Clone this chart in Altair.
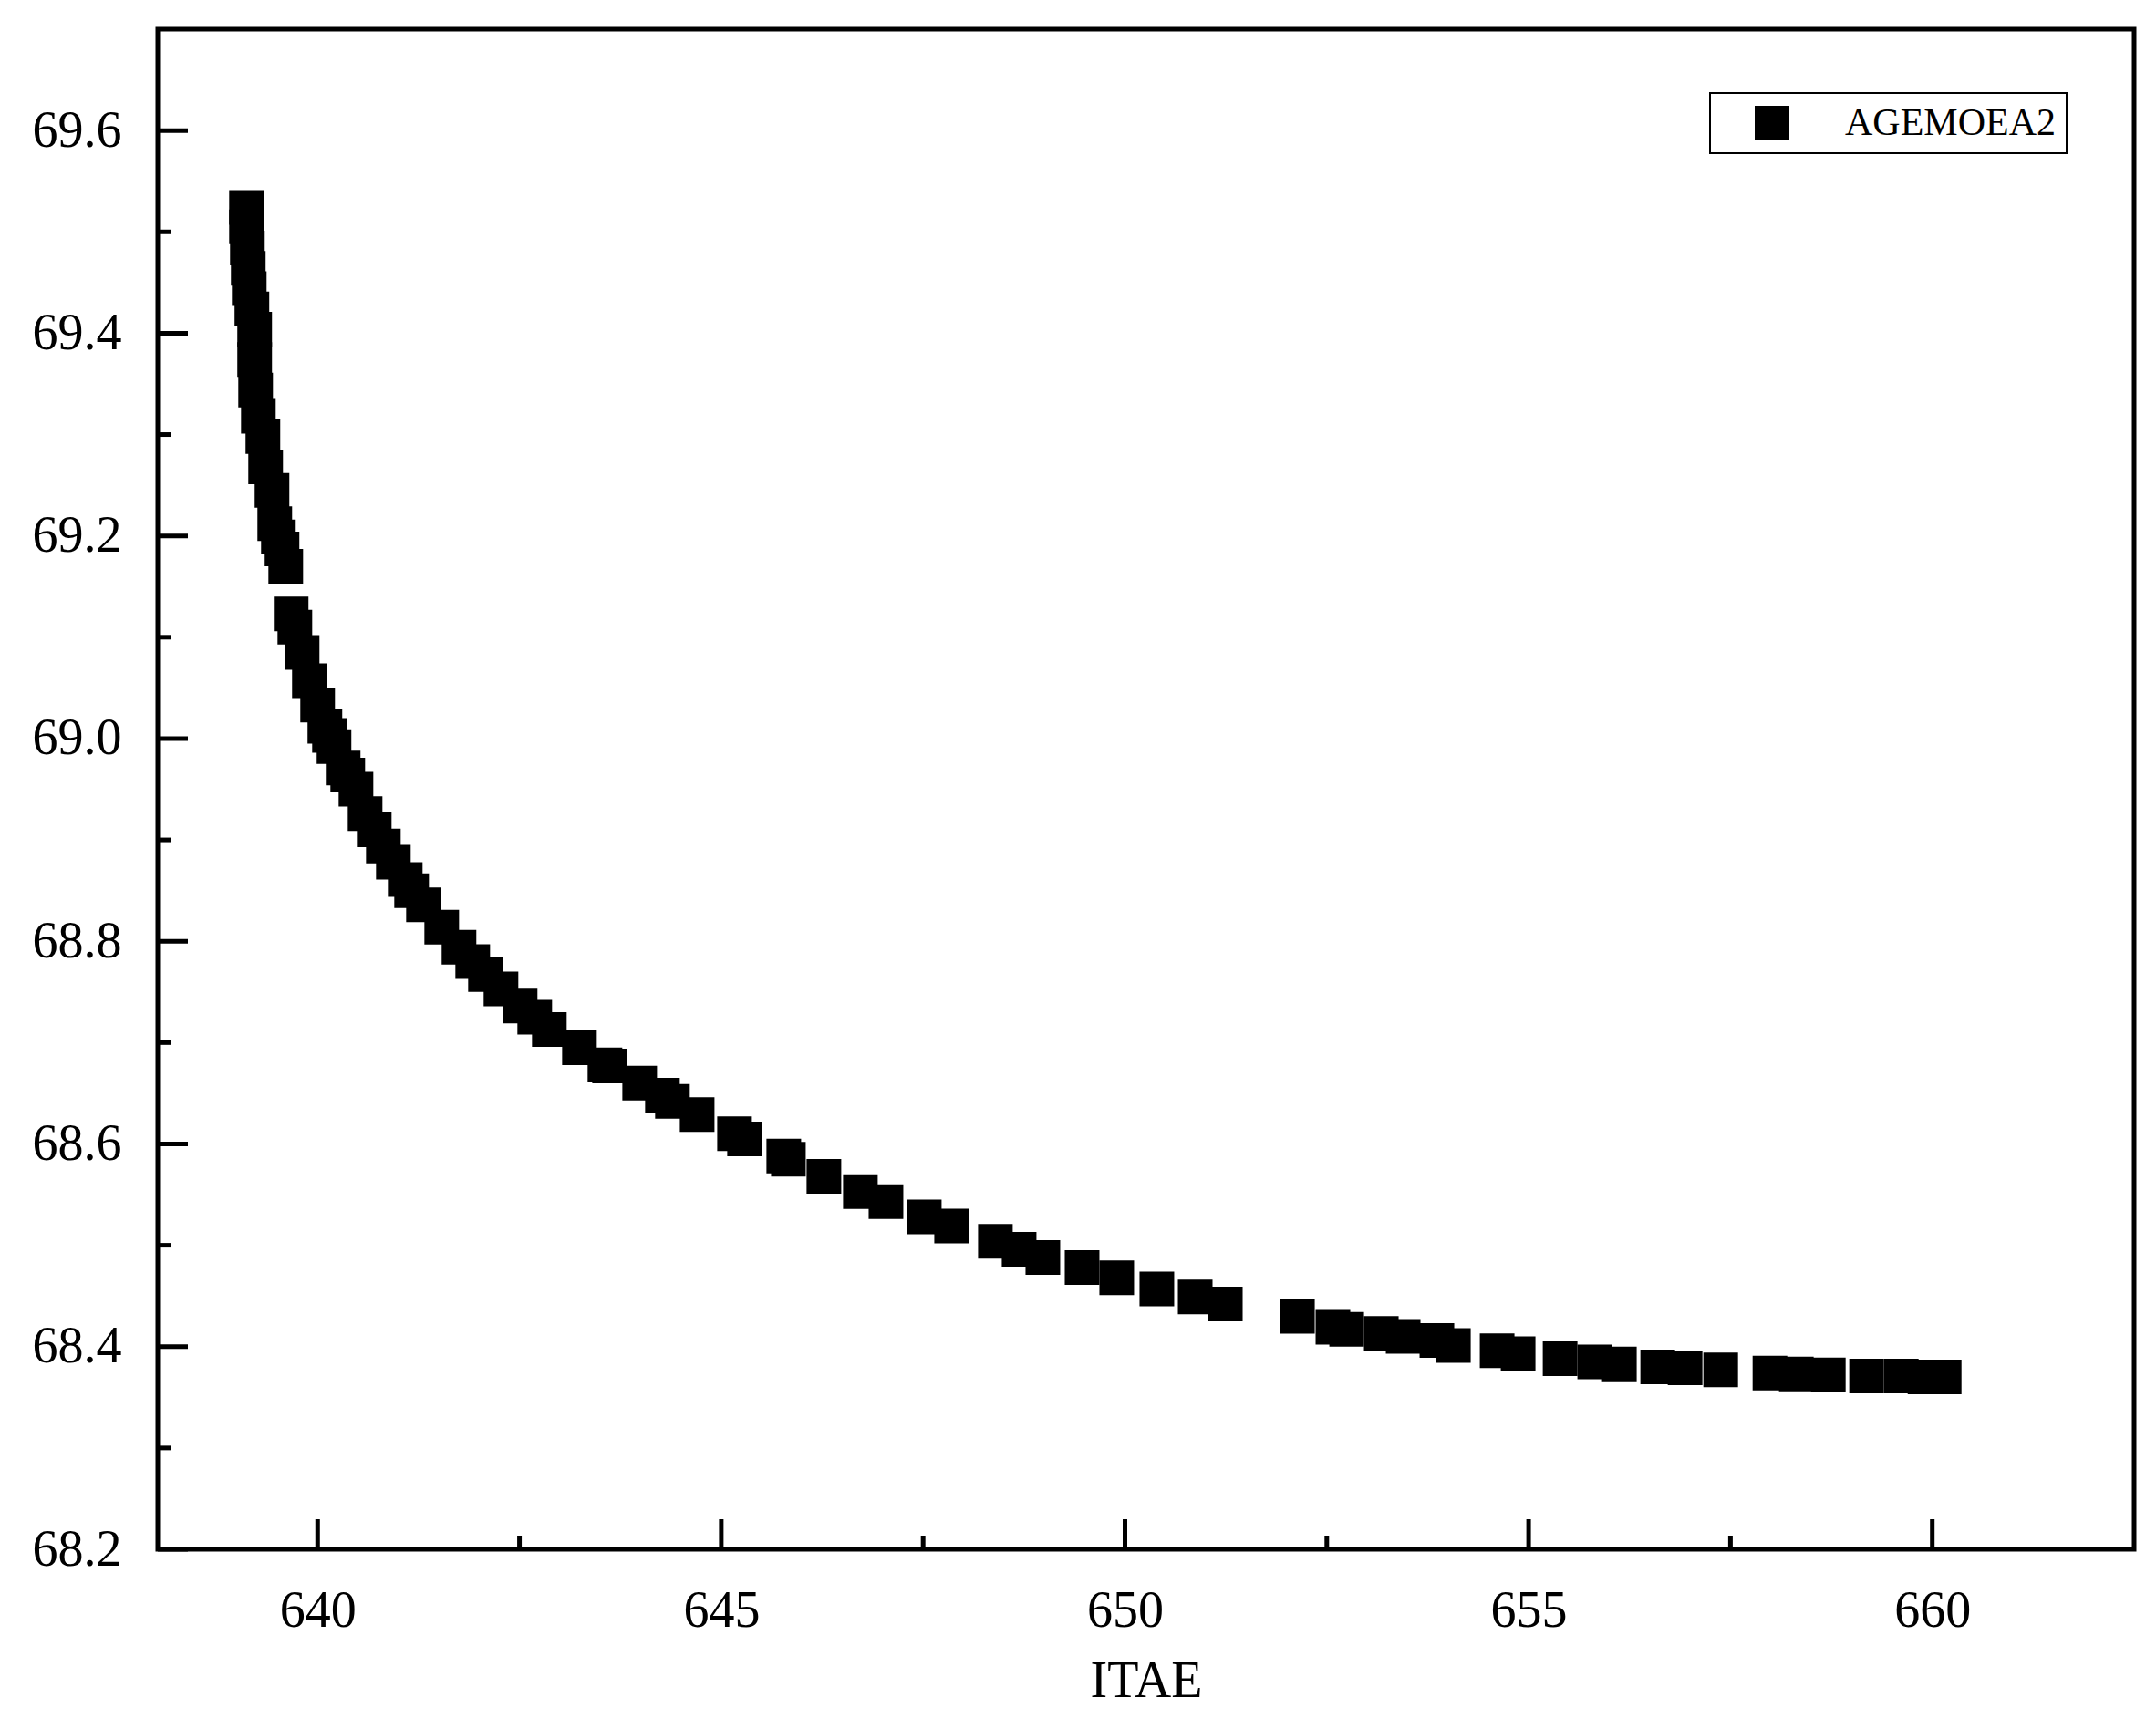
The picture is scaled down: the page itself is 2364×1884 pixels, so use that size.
import altair as alt
import pandas as pd

# ---- data ----
series_name = "AGEMOEA2"

itae = [
    639.119, 639.119, 639.130, 639.141, 639.153, 639.186, 639.220, 639.220, 639.232, 639.266,
    639.322, 639.356, 639.435, 639.469, 639.514, 639.559, 639.605,
    639.672, 639.718, 639.808, 639.898, 640.000, 640.090, 640.147, 640.203, 640.316, 640.373,
    640.475, 640.588, 640.701, 640.814, 640.938, 641.085, 641.164, 641.311, 641.537, 641.751,
    641.921, 642.079, 642.271, 642.508, 642.689, 642.870, 643.243, 643.559, 643.616, 643.989,
    644.271, 644.395, 644.701, 645.164, 645.288, 645.774, 645.831, 646.271, 646.723, 647.040,
    647.514, 647.853, 648.395, 648.689, 648.983, 649.469, 649.898, 650.395, 650.870, 651.243,
    652.136, 652.576, 652.746, 653.175, 653.446, 653.864, 654.068, 654.610, 654.870, 655.390,
    655.819, 656.124, 656.599, 656.938, 657.379,
    657.989, 658.316, 658.712, 659.186, 659.616, 659.910, 660.147,
]
objective2 = [
    69.524, 69.505, 69.484, 69.464, 69.444, 69.424, 69.404, 69.374, 69.344, 69.318,
    69.298, 69.268, 69.245, 69.212, 69.199, 69.187, 69.170,
    69.123, 69.110, 69.085, 69.057, 69.033, 69.012, 69.003, 68.992, 68.971, 68.964,
    68.950, 68.926, 68.910, 68.894, 68.878, 68.861, 68.850, 68.836, 68.814, 68.794,
    68.780, 68.767, 68.753, 68.736, 68.725, 68.713, 68.695, 68.678, 68.677, 68.660,
    68.648, 68.642, 68.629, 68.610, 68.605, 68.588, 68.585, 68.568, 68.553, 68.543,
    68.528, 68.519, 68.504, 68.496, 68.488, 68.478, 68.468, 68.457, 68.449, 68.442,
    68.430, 68.419, 68.417, 68.413, 68.410, 68.406, 68.401, 68.396, 68.393, 68.388,
    68.385, 68.383, 68.380, 68.379, 68.377,
    68.374, 68.373, 68.372, 68.371, 68.371, 68.370, 68.370,
]

x_major = [640, 645, 650, 655, 660]
x_minor = [642.5, 647.5, 652.5, 657.5]
y_major = [68.2, 68.4, 68.6, 68.8, 69.0, 69.2, 69.4, 69.6]
y_minor = [68.3, 68.5, 68.7, 68.9, 69.1, 69.3, 69.5]

# ---- layout / style ----
W, H = 2167, 1667
FONT = "Liberation Serif"
MAJOR_LEN, MINOR_LEN = 33, 15

xs = alt.Scale(domain=[638.02, 662.5], nice=False, zero=False)
ys = alt.Scale(domain=[68.2, 69.7], nice=False, zero=False)

pts = pd.DataFrame({"ITAE": itae, "obj": objective2, "series": [series_name] * len(itae)})

x_axis = alt.Axis(values=x_major, format="d", title="ITAE", ticks=False, tickSize=0,
                  domain=False, grid=False, labelPadding=40, labelFont=FONT,
                  labelFontSize=56, labelColor="black", labelFlush=False,
                  labelOverlap=False, titleFont=FONT, titleFontSize=56,
                  titleFontWeight="normal", titleColor="black", titlePadding=22)
y_axis = alt.Axis(values=y_major, format=".1f", title=" ", ticks=False, tickSize=0,
                  domain=False, grid=False, labelPadding=40, labelFont=FONT,
                  labelFontSize=56, labelColor="black", labelFlush=False,
                  labelOverlap=False)

points = alt.Chart(pts).mark_square(size=1444, opacity=1, filled=True).encode(
    x=alt.X("ITAE:Q", scale=xs, axis=x_axis),
    y=alt.Y("obj:Q", scale=ys, axis=y_axis),
    color=alt.Color(
        "series:N",
        scale=alt.Scale(domain=[series_name], range=["#000000"]),
        legend=alt.Legend(
            title=None, orient="none", legendX=1702, legendY=70,
            symbolType="square", symbolSize=1444, symbolStrokeWidth=0,
            labelFont=FONT, labelFontSize=42, labelColor="black", labelLimit=600,
            labelOffset=59, symbolOffset=35, padding=12,
            strokeColor="black", fillColor="white",
        ),
    ),
)

xt_major = alt.Chart(pd.DataFrame({"ITAE": x_major})).mark_rule(color="black", strokeWidth=5).encode(
    x=alt.X("ITAE:Q", scale=xs, axis=x_axis), y=alt.value(H), y2=alt.value(H - MAJOR_LEN))
xt_minor = alt.Chart(pd.DataFrame({"ITAE": x_minor})).mark_rule(color="black", strokeWidth=5).encode(
    x=alt.X("ITAE:Q", scale=xs, axis=x_axis), y=alt.value(H), y2=alt.value(H - MINOR_LEN))
yt_major = alt.Chart(pd.DataFrame({"obj": y_major})).mark_rule(color="black", strokeWidth=5).encode(
    y=alt.Y("obj:Q", scale=ys, axis=y_axis), x=alt.value(0), x2=alt.value(MAJOR_LEN))
yt_minor = alt.Chart(pd.DataFrame({"obj": y_minor})).mark_rule(color="black", strokeWidth=5).encode(
    y=alt.Y("obj:Q", scale=ys, axis=y_axis), x=alt.value(0), x2=alt.value(MINOR_LEN))

chart = alt.layer(points, xt_major, xt_minor, yt_major, yt_minor).properties(
    width=W, height=H,
    autosize=alt.AutoSizeParams(type="none"),
    padding={"left": 165, "top": 24, "right": 16, "bottom": 177},
    background="white",
).configure_view(stroke="black", strokeWidth=5).configure_legend(strokeWidth=2)

chart.save("out.html", embed_options={"renderer": "svg", "actions": False})
